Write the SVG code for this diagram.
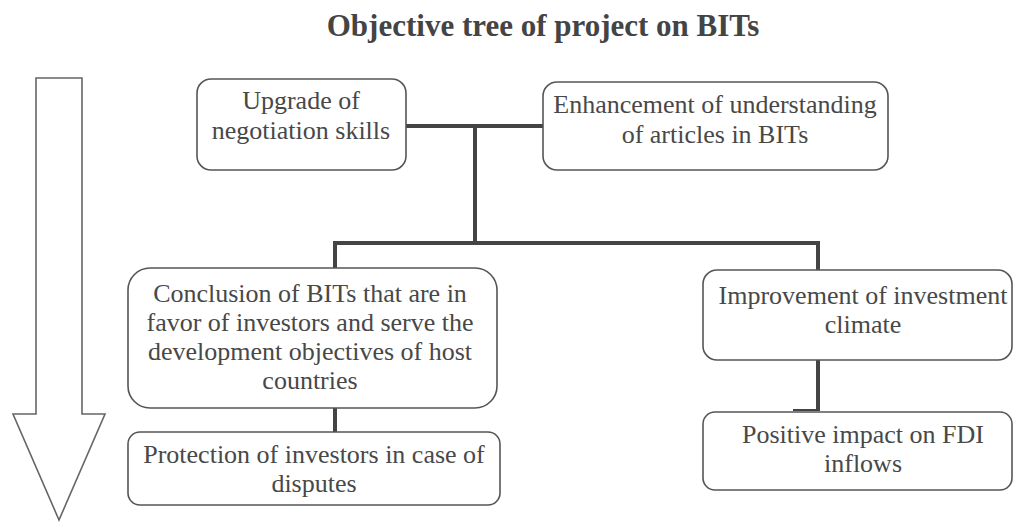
<svg xmlns="http://www.w3.org/2000/svg" width="1015" height="522" viewBox="0 0 1015 522">
  <style>
    .box { fill: #ffffff; stroke: #555555; stroke-width: 1.6; }
    .lbl { font-family: "Liberation Serif", "Times New Roman", serif; font-size: 26px; fill: #484848; text-anchor: middle; }
    .title { font-family: "Liberation Serif", "Times New Roman", serif; font-size: 31px; font-weight: bold; fill: #444444; text-anchor: middle; }
    .wire { fill: none; stroke: #444444; stroke-width: 4; stroke-linecap: butt; stroke-linejoin: miter; }
  </style>
  <rect width="1015" height="522" fill="#ffffff"/>

  <text class="title" x="543" y="36">Objective tree of project on BITs</text>

  <!-- direction arrow on the left -->
  <g id="direction-arrow">
    <polygon points="36,78 82,78 82,414 105,414 59,520 13,414 36,414" fill="#ffffff" stroke="#666666" stroke-width="1.6" stroke-linejoin="miter"/>
  </g>

  <!-- connectors -->
  <g id="connectors">
    <path class="wire" d="M406,126 H543"/>
    <path class="wire" d="M475,126 V243"/>
    <path class="wire" d="M335,243 H818"/>
    <path class="wire" d="M335,241 V268"/>
    <path class="wire" d="M818,241 V270"/>
    <path class="wire" d="M335,408 V432"/>
    <path class="wire" d="M818,360 V411"/>
    <path d="M793,410 H818" fill="none" stroke="#444444" stroke-width="2"/>
  </g>

  <g id="node-upgrade">
    <rect class="box" x="197" y="79" width="209" height="91" rx="14"/>
    <text class="lbl" x="301" y="109">Upgrade of</text>
    <text class="lbl" x="301" y="139">negotiation skills</text>
  </g>

  <g id="node-enhancement">
    <rect class="box" x="543" y="82" width="345" height="88" rx="14"/>
    <text class="lbl" x="715" y="113">Enhancement of understanding</text>
    <text class="lbl" x="715" y="143">of articles in BITs</text>
  </g>

  <g id="node-conclusion">
    <rect class="box" x="128" y="268" width="369" height="140" rx="22"/>
    <text class="lbl" x="310" y="302">Conclusion of BITs that are in</text>
    <text class="lbl" x="310" y="331">favor of investors and serve the</text>
    <text class="lbl" x="310" y="360">development objectives of host</text>
    <text class="lbl" x="310" y="389">countries</text>
  </g>

  <g id="node-protection">
    <rect class="box" x="128" y="432" width="372" height="73" rx="12"/>
    <text class="lbl" x="314" y="463">Protection of investors in case of</text>
    <text class="lbl" x="314" y="492">disputes</text>
  </g>

  <g id="node-improvement">
    <rect class="box" x="703" y="270" width="309" height="90" rx="14"/>
    <text class="lbl" x="863" y="304">Improvement of investment</text>
    <text class="lbl" x="863" y="333">climate</text>
  </g>

  <g id="node-fdi">
    <rect class="box" x="703" y="412" width="309" height="78" rx="12"/>
    <text class="lbl" x="863" y="443">Positive impact on FDI</text>
    <text class="lbl" x="863" y="472">inflows</text>
  </g>
</svg>
